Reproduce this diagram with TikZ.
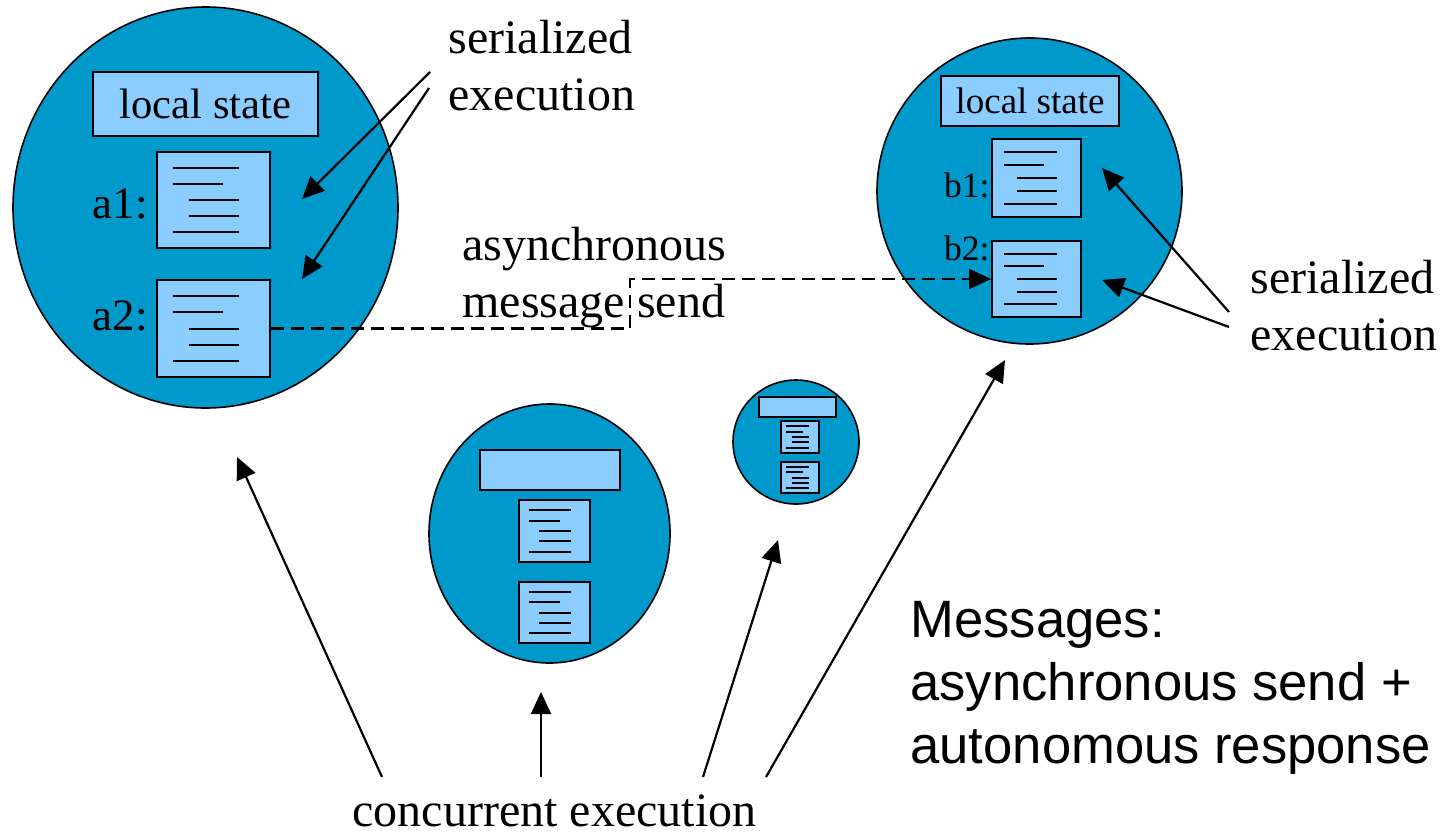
\documentclass[tikz,border=0pt]{standalone}
\usepackage{fontspec}
\setmainfont{Liberation Serif}
\newfontfamily\arialfont{Liberation Sans}
\usetikzlibrary{shapes.geometric, arrows.meta, calc}
\definecolor{procblue}{RGB}{0,153,204}
\definecolor{boxblue}{RGB}{140,205,255}
\begin{document}
\begin{tikzpicture}[x=0.5pt, y=-0.5pt,
  actor/.style={ellipse, draw=black, line width=0.8pt, fill=procblue, inner sep=0pt},
  statebox/.style={rectangle, draw=black, line width=1pt, fill=boxblue, inner sep=0pt},
  codebox/.style={statebox, path picture={
    \coordinate (pnw) at (path picture bounding box.north west);
    \coordinate (pse) at (path picture bounding box.south east);
    \foreach \r/\ua/\ub in {1/0.14/0.73, 2/0.14/0.58, 3/0.28/0.73, 4/0.28/0.73, 5/0.14/0.73}
      \draw[line width=1pt] let \p1=(pnw), \p2=(pse) in
        ({\x1+\ua*(\x2-\x1)}, {\y1+\r*(\y2-\y1)/6}) -- ({\x1+\ub*(\x2-\x1)}, {\y1+\r*(\y2-\y1)/6});
  }},
  lblA/.style={inner sep=0pt, anchor=base east, font=\fontsize{22.5}{26}\selectfont},
  lblB/.style={inner sep=0pt, anchor=base east, font=\fontsize{17.8}{21}\selectfont},
  note/.style={inner sep=0pt, align=left, anchor=base west, font=\fontsize{24}{28.5}\selectfont},
  callout/.style={line width=1.1pt, -{Triangle[length=11pt,width=10pt]}},
  msg/.style={line width=1.25pt, dash pattern=on 6.5pt off 3.5pt, -{Triangle[length=11pt,width=10pt]}}
]
\useasboundingbox (0,0) rectangle (1443,835);

% actor A
\node[actor, minimum width=192.5pt, minimum height=200.5pt] (actA) at (205.5,207.5) {};
\node[statebox, minimum width=112.5pt, minimum height=32pt, font=\fontsize{21.3}{25}\selectfont] (stA) at (205.5,104) {local state};
\node[codebox, minimum width=56.5pt, minimum height=48pt] (a1) at (213.5,200) {};
\node[codebox, minimum width=56.5pt, minimum height=48.5pt] (a2) at (213.5,328.5) {};
\node[lblA] (la1) at (148,218) {a1:};
\node[lblA] (la2) at (148,330) {a2:};

% actor B
\node[actor, minimum width=152.5pt, minimum height=153pt] (actB) at (1029.5,191) {};
\node[statebox, minimum width=89pt, minimum height=25pt, font=\fontsize{18.5}{22}\selectfont] (stB) at (1030,101) {local state};
\node[codebox, minimum width=44.5pt, minimum height=39pt] (b1) at (1036.5,178) {};
\node[codebox, minimum width=44.5pt, minimum height=38pt] (b2) at (1036.5,279) {};
\node[lblB] (lb1) at (990,197) {b1:};
\node[lblB] (lb2) at (990,260) {b2:};

% actor C
\node[actor, minimum width=120.5pt, minimum height=129.5pt] (actC) at (549.5,533.5) {};
\node[statebox, minimum width=70pt, minimum height=20pt] (stC) at (550,470) {};
\node[codebox, minimum width=35.5pt, minimum height=31pt] (c1) at (554.5,531) {};
\node[codebox, minimum width=35.5pt, minimum height=30.5pt] (c2) at (554.5,612.5) {};

% actor D
\node[actor, minimum width=63pt, minimum height=62pt] (actD) at (796,442) {};
\node[statebox, minimum width=38.5pt, minimum height=10pt] (stD) at (797.5,407) {};
\node[codebox, minimum width=19pt, minimum height=16pt] (d1) at (800,437) {};
\node[codebox, minimum width=19pt, minimum height=15.5pt] (d2) at (800,477.5) {};

% labels (anchored at the baseline of their last line)
\node[note] (serA) at (448,110) {serialized\\execution};
\node[note] (serB) at (1250,350) {serialized\\execution};
\node[note] (async) at (462,317) {asynchronous\\message send};
\node[inner sep=0pt, anchor=base, font=\fontsize{24}{28.5}\selectfont] (conc) at (554.5,826) {concurrent execution};
\node[inner sep=0pt, align=left, anchor=base west, font=\arialfont\fontsize{26.3}{31.5}\selectfont] (msgs) at (910,763) {Messages:\\asynchronous send +\\autonomous response};

% asynchronous message
\draw[msg] (a2.east) -- (630,328.5) |- (b2.west);

% serialized execution callouts
\coordinate (sA1) at (430,72);
\coordinate (sA2) at (429,88);
\coordinate (tA1) at (302,199);
\coordinate (tA2) at (302,279);
\draw[callout] (sA1) -- (tA1);
\draw[callout] (sA2) -- (tA2);
\coordinate (sB1) at (1229,312);
\coordinate (sB2) at (1229,327);
\coordinate (tB1) at (1102,168);
\coordinate (tB2) at (1102,280);
\draw[callout] (sB1) -- (tB1);
\draw[callout] (sB2) -- (tB2);

% concurrent execution callouts
\coordinate (k1) at (382,777);
\coordinate (k2) at (541,777);
\coordinate (k3) at (703,777);
\coordinate (k4) at (766,777);
\coordinate (e1) at (237,457);
\coordinate (e2) at (541,692);
\coordinate (e3) at (778,540);
\coordinate (e4) at (1005,360);
\draw[callout] (k1) -- (e1);
\draw[callout] (k2) -- (e2);
\draw[callout] (k3) -- (e3);
\draw[callout] (k4) -- (e4);
\end{tikzpicture}
\end{document}
